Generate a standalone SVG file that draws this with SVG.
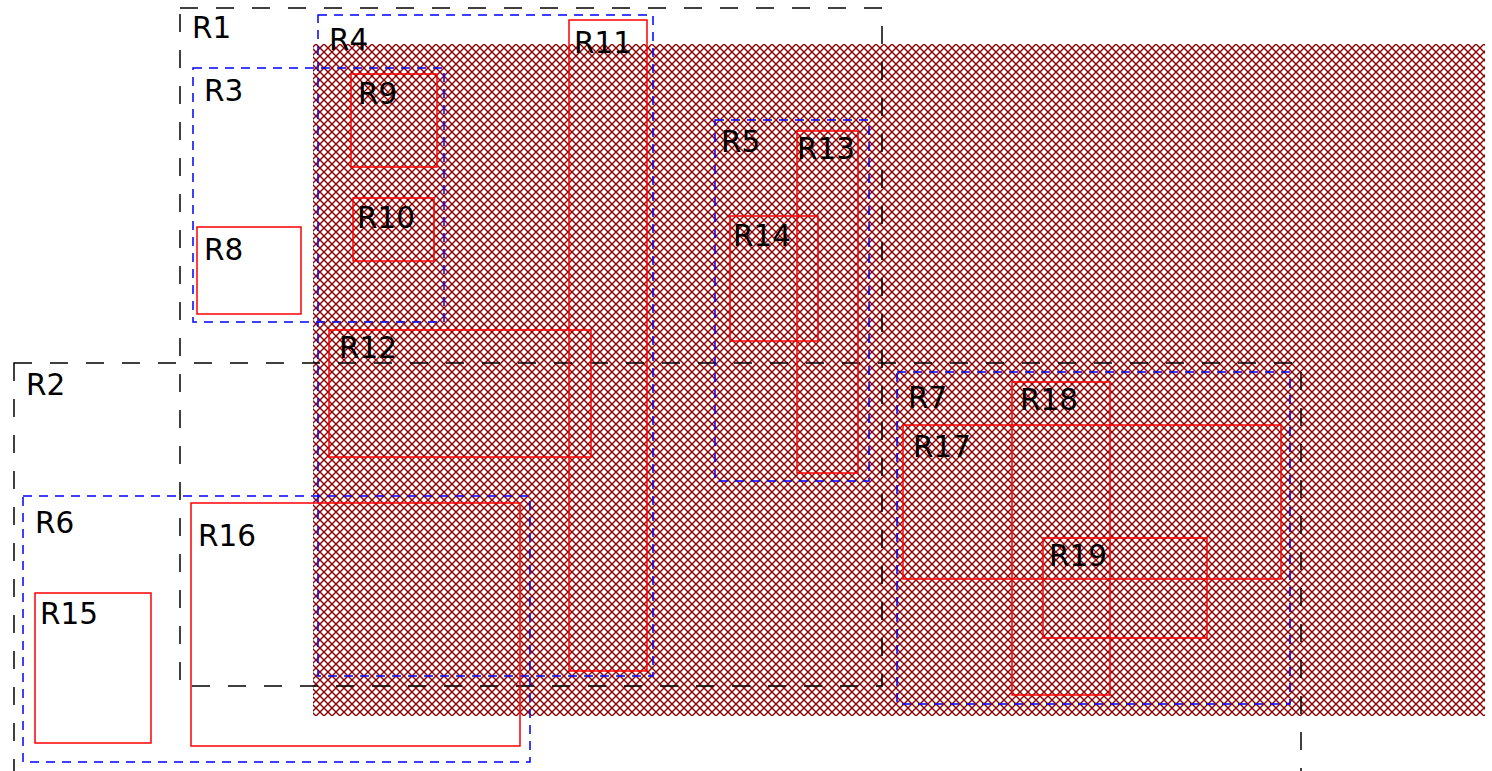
<svg xmlns="http://www.w3.org/2000/svg" width="1492" height="771" viewBox="0 0 1492 771">
<defs>
<pattern id="hatch" patternUnits="userSpaceOnUse" width="8" height="8">
<path d="M0,0 L8,8 M8,0 L0,8" stroke="#8b0000" stroke-width="1.4" fill="none"/>
</pattern>
<style>
.blk{fill:none;stroke:#000;stroke-width:1.5;stroke-dasharray:18,18}
.blu{fill:none;stroke:#0000ff;stroke-width:1.5;stroke-dasharray:9,7}
.red{fill:none;stroke:#ff0000;stroke-width:1.5}
text{font-family:"DejaVu Sans",sans-serif;font-size:29.5px;fill:#000}
</style>
</defs>
<rect width="1492" height="771" fill="#fff"/>
<rect id="hatch-area" x="313" y="44" width="1172" height="672" fill="url(#hatch)"/>
<g id="R1"><rect class="blk" x="180" y="8" width="702" height="678"/><text x="192" y="38">R1</text></g>
<g id="R2"><rect class="blk" x="14" y="363" width="1287" height="450"/><text x="26" y="395">R2</text></g>
<g id="R3"><rect class="blu" x="193" y="68" width="251" height="254"/><text x="204" y="101">R3</text></g>
<g id="R4"><rect class="blu" x="318" y="15" width="335" height="661"/><text x="329" y="50">R4</text></g>
<g id="R5"><rect class="blu" x="715" y="120" width="154" height="361"/><text x="721" y="152">R5</text></g>
<g id="R6"><rect class="blu" x="23" y="496" width="507" height="266"/><text x="35" y="533">R6</text></g>
<g id="R7"><rect class="blu" x="897" y="372" width="393" height="332"/><text x="908" y="408">R7</text></g>
<g id="R8"><rect class="red" x="197" y="227" width="104" height="87"/><text x="204" y="260">R8</text></g>
<g id="R9"><rect class="red" x="351" y="74" width="86" height="93"/><text x="358" y="104">R9</text></g>
<g id="R10"><rect class="red" x="353" y="198" width="81" height="63"/><text x="357" y="228">R10</text></g>
<g id="R11"><rect class="red" x="569" y="20" width="78" height="651"/><text x="574" y="53">R11</text></g>
<g id="R12"><rect class="red" x="329" y="330" width="262" height="127"/><text x="339" y="358">R12</text></g>
<g id="R13"><rect class="red" x="797" y="131" width="61" height="342"/><text x="797" y="159">R13</text></g>
<g id="R14"><rect class="red" x="730" y="216" width="88" height="125"/><text x="733" y="246">R14</text></g>
<g id="R15"><rect class="red" x="35" y="593" width="116" height="150"/><text x="40" y="624">R15</text></g>
<g id="R16"><rect class="red" x="191" y="503" width="329" height="243"/><text x="198" y="546">R16</text></g>
<g id="R17"><rect class="red" x="903" y="425" width="378" height="154"/><text x="913" y="457">R17</text></g>
<g id="R18"><rect class="red" x="1012" y="382" width="98" height="313"/><text x="1020" y="410">R18</text></g>
<g id="R19"><rect class="red" x="1043" y="538" width="164" height="100"/><text x="1049" y="566">R19</text></g>
</svg>
